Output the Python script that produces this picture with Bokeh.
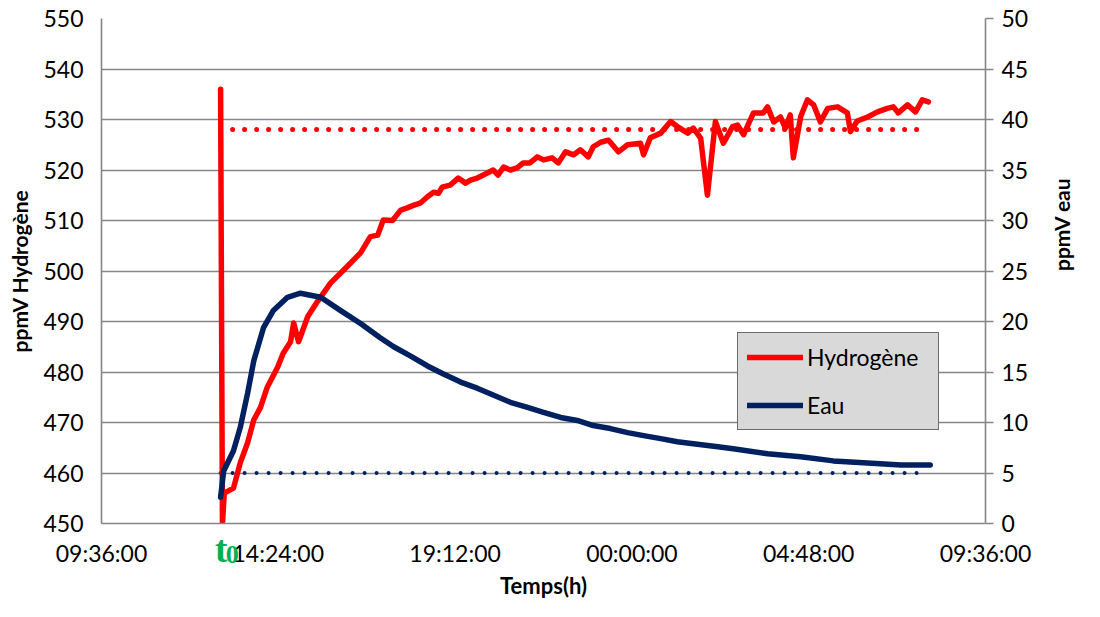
import math
import numpy as np
from bokeh.plotting import figure
from bokeh.models import (Range1d, LinearAxis, FixedTicker, DatetimeTickFormatter,
                          Legend, LegendItem)
from bokeh.embed import file_html
from bokeh.resources import INLINE

# ---------------- data ----------------
h2_times = ["12:50", "12:53", "12:56", "13:11", "13:22", "13:34", "13:44", "13:55", "14:06",
            "14:23", "14:32", "14:44", "14:49", "14:57", "15:12", "15:28", "15:49", "16:17",
            "16:38", "16:54", "17:06", "17:15", "17:30", "17:43", "17:54", "18:04", "18:16",
            "18:27", "18:37", "18:45", "18:51", "19:04", "19:17", "19:29", "19:37", "19:48",
            "19:58", "20:14", "20:22", "20:31", "20:42", "20:53", "21:03", "21:14", "21:26",
            "21:36", "21:50", "22:00", "22:12", "22:25", "22:36", "22:49", "22:57", "23:09",
            "23:22", "23:38", "23:53", "00:14", "00:19", "00:30", "00:47", "01:03", "01:14",
            "01:31", "01:40", "01:52", "02:03", "02:16", "02:29", "02:44", "02:52", "03:02",
            "03:18", "03:34", "03:41", "03:51", "04:02", "04:10", "04:18", "04:23", "04:35",
            "04:46", "04:56", "05:07", "05:19", "05:35", "05:51", "05:56", "06:07", "06:24",
            "06:40", "06:56", "07:06", "07:14", "07:29", "07:42", "07:53", "08:03"]
h2_ppmv = [536, 450, 456, 457, 462, 466, 470.5, 473, 477,
           481, 483.7, 486, 489.7, 486, 491, 494, 497.6, 501,
           503.6, 506.8, 507.1, 510.1, 510, 512, 512.5, 513, 513.5,
           514.7, 515.6, 515.4, 516.6, 517, 518.4, 517.4, 518, 518.4,
           519, 520, 519, 520.6, 520, 520.4, 521.4, 521.4, 522.6,
           522, 522.4, 521.4, 523.6, 523, 524, 522.6, 524.6, 525.5,
           525.9, 523.6, 525, 525.3, 523, 526.4, 527.3, 529.6, 528.6,
           527.3, 528.3, 526.3, 515, 529.6, 525.3, 528.6, 528.9, 527,
           531.3, 531.3, 532.5, 529.5, 530.5, 528.3, 530.9, 522.4, 530.6,
           533.9, 532.9, 529.5, 532.2, 532.5, 531.3, 527.6, 529.7, 530.5,
           531.5, 532.2, 532.5, 531.3, 532.9, 531.5, 533.9, 533.5]

eau_times = ["12:50", "12:55", "13:11", "13:22", "13:34", "13:44", "14:00", "14:16", "14:39",
             "15:00", "15:33", "16:05", "16:38", "17:10", "17:32", "17:59", "18:27", "18:53",
             "19:21", "19:48", "20:15", "20:42", "21:10", "21:36", "22:04", "22:31", "22:57",
             "23:25", "23:53", "00:19", "00:47", "01:14", "01:40", "02:20", "02:45", "03:41",
             "04:35", "05:28", "06:24", "07:18", "08:06"]
eau_ppmv = [2.6, 5.2, 7.2, 9.5, 12.9, 16.1, 19.4, 21.1, 22.4,
            22.8, 22.4, 21.1, 19.8, 18.4, 17.5, 16.6, 15.6, 14.8,
            14.0, 13.4, 12.7, 12.0, 11.5, 11.0, 10.5, 10.2, 9.7,
            9.4, 9.0, 8.7, 8.4, 8.1, 7.9, 7.6, 7.4, 6.9,
            6.6, 6.2, 6.0, 5.8, 5.8]

ref_times = ["12:50", "07:50"]
h2_ref = [528, 528]
eau_ref = [5, 5]

x_start, x_end = "09:36", "09:36"
x_tick_labels = ["09:36:00", "14:24:00", "19:12:00", "00:00:00", "04:48:00", "09:36:00"]
left_ticks = [450, 460, 470, 480, 490, 500, 510, 520, 530, 540, 550]
right_ticks = [0, 5, 10, 15, 20, 25, 30, 35, 40, 45, 50]
t0_letter, t0_letter_time = "t", "12:51"
t0_digit, t0_digit_time = "0", "13:09"

# ---------------- helpers ----------------
DAY1 = np.datetime64("2000-01-01T00:00")


def to_dt(t, next_day_if_morning=True):
    hh, mm = [int(v) for v in t.split(":")]
    d = DAY1 + np.timedelta64(hh * 60 + mm, "m")
    if next_day_if_morning and hh < 12:
        d = d + np.timedelta64(1, "D")
    return d


def to_ms(d):
    return int(d.astype("datetime64[ms]").astype(np.int64))


def dts(lst):
    return np.array([to_dt(t) for t in lst], dtype="datetime64[ms]")


x0_ms = to_ms(to_dt(x_start, False))
x1_ms = to_ms(to_dt(x_end, False) + np.timedelta64(1, "D"))
n_int = len(x_tick_labels) - 1
x_tick_ms = [int(x0_ms + i * (x1_ms - x0_ms) // n_int) for i in range(len(x_tick_labels))]

FONT = "Lato"
GRID = "#868686"
RED = "#ff0000"
NAVY = "#002060"
GREEN = "#00b050"

p = figure(width=1092, height=601, x_axis_type="datetime",
           x_range=Range1d(x0_ms, x1_ms), y_range=Range1d(450, 550),
           output_backend="svg", toolbar_location=None,
           min_border_left=101, min_border_right=107, min_border_top=18, min_border_bottom=78)
p.extra_y_ranges = {"eau": Range1d(0, 50)}
p.outline_line_color = None
p.background_fill_color = "white"
p.border_fill_color = "white"

# grid
p.xgrid.visible = False
p.ygrid.ticker = FixedTicker(ticks=left_ticks)
p.ygrid.grid_line_color = GRID
p.ygrid.grid_line_width = 1.6

# x axis (tick labels only)
xa = p.xaxis[0]
xa.ticker = FixedTicker(ticks=x_tick_ms)
xa.formatter = DatetimeTickFormatter(milliseconds="%H:%M:%S", seconds="%H:%M:%S",
                                     minsec="%H:%M:%S", minutes="%H:%M:%S",
                                     hourmin="%H:%M:%S", hours="%H:%M:%S",
                                     days="%H:%M:%S", months="%H:%M:%S", years="%H:%M:%S")

# left axis
ya = p.yaxis[0]
ya.ticker = FixedTicker(ticks=left_ticks)
ya.axis_label = "ppmV Hydrogène"

# right axis
ra = LinearAxis(y_range_name="eau", ticker=FixedTicker(ticks=right_ticks), axis_label="ppmV eau")
p.add_layout(ra, "right")

# t0 marker: two extra label-only axes below, pulled up next to the tick labels
t_ms = to_ms(to_dt(t0_letter_time))
z_ms = to_ms(to_dt(t0_digit_time))
tax = LinearAxis(ticker=FixedTicker(ticks=[t_ms]), major_label_overrides={t_ms: t0_letter})
zax = LinearAxis(ticker=FixedTicker(ticks=[z_ms]), major_label_overrides={z_ms: t0_digit},
                 axis_label="Temps(h)")
p.add_layout(tax, "below")
p.add_layout(zax, "below")

for ax in (xa, ya, ra, tax, zax):
    ax.axis_line_color = GRID
    ax.axis_line_width = 1.6
    ax.major_tick_line_color = GRID
    ax.major_tick_line_width = 1.6
    ax.minor_tick_line_color = None
    ax.major_tick_in = 0
    ax.major_tick_out = 0
    ax.major_label_text_font = FONT
    ax.major_label_text_font_size = "23px"
    ax.major_label_text_color = "black"
    ax.axis_label_text_font = FONT
    ax.axis_label_text_font_size = "21px"
    ax.axis_label_text_font_style = "bold"
    ax.axis_label_text_color = "black"

for ax in (tax, zax):
    ax.axis_line_color = None
    ax.major_tick_line_color = None
    ax.major_label_text_font = "Liberation Serif"
    ax.major_label_text_font_style = "bold"
    ax.major_label_text_color = GREEN
tax.major_label_text_font_size = "37px"
zax.major_label_text_font_size = "26px"
zax.axis_label_text_font_size = "22px"

xa.major_label_standoff = 15
tax.major_label_standoff = -41
zax.major_label_standoff = -27
zax.axis_label_standoff = 6

ya.major_label_standoff = 18
ya.axis_label_standoff = 8
ra.major_tick_out = 8
ra.major_label_standoff = 8
ra.axis_label_standoff = 30
ra.axis_label_orientation = math.pi / 2

# reference (dotted) lines
h2_ref_line = p.line(dts(ref_times), h2_ref, line_color=RED, line_width=5,
                     line_dash="0 12", line_cap="round")
eau_ref_line = p.line(dts(ref_times), eau_ref, line_color=NAVY, line_width=4,
                      line_dash="0 12", line_cap="round", y_range_name="eau")

# data lines
h2_line = p.line(dts(h2_times), h2_ppmv, line_color=RED, line_width=5.5, line_join="round",
                 line_cap="round")
eau_line = p.line(dts(eau_times), eau_ppmv, line_color=NAVY, line_width=5.5, line_join="round",
                  line_cap="round", y_range_name="eau")

# legend
legend = Legend(items=[LegendItem(label="Hydrogène", renderers=[h2_line]),
                       LegendItem(label="Eau", renderers=[eau_line])],
                location=(636, 93), orientation="vertical",
                background_fill_color="#d9d9d9", background_fill_alpha=1.0,
                border_line_color="black", border_line_width=1.5,
                label_text_font=FONT, label_text_font_size="23px", label_text_color="black",
                glyph_width=56, glyph_height=30, label_height=30, label_width=122,
                label_standoff=4, spacing=18, padding=9, margin=0)
p.add_layout(legend, "center")

open("out.html", "w").write(file_html(p, INLINE))
